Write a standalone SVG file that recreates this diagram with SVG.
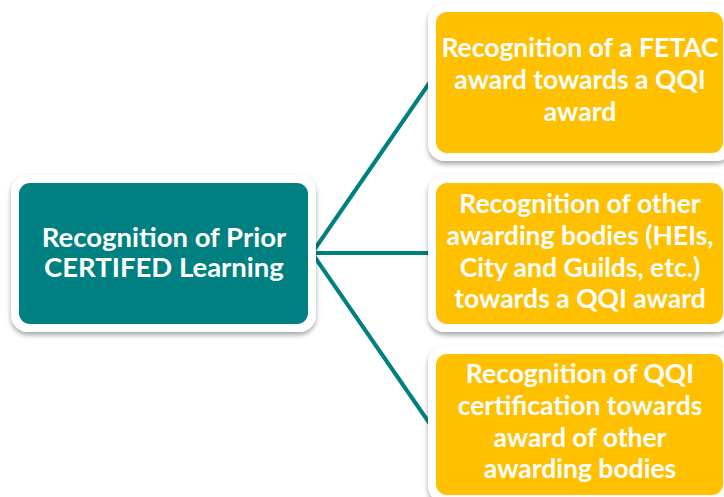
<svg xmlns="http://www.w3.org/2000/svg" width="724" height="497" viewBox="0 0 724 497">
  <style>
    .frame { fill: #ffffff; filter: url(#shadow); }
    .teal { fill: #008080; }
    .gold { fill: #FFC000; }
    .label { font-family: Lato, "Open Sans", "Liberation Sans", sans-serif; font-weight: 700; font-size: 26.5px; fill: #ffffff; text-anchor: middle; }
    .root-label { font-size: 27.5px; }
    .link { stroke: #008080; stroke-width: 4; fill: none; }
  </style>
  <defs>
    <filter id="shadow" x="-10%" y="-10%" width="120%" height="130%">
      <feGaussianBlur in="SourceAlpha" stdDeviation="2.5"/>
      <feOffset dx="0" dy="3" result="blur"/>
      <feFlood flood-color="#000000" flood-opacity="0.35"/>
      <feComposite in2="blur" operator="in"/>
      <feMerge>
        <feMergeNode/>
        <feMergeNode in="SourceGraphic"/>
      </feMerge>
    </filter>
  </defs>
  <rect width="724" height="497" fill="#ffffff"/>

  <!-- connectors from the root box to each branch -->
  <g id="connectors">
    <line class="link" x1="312" y1="253" x2="430" y2="82"/>
    <line class="link" x1="312" y1="253" x2="430" y2="253"/>
    <line class="link" x1="312" y1="253" x2="430" y2="424"/>
  </g>

  <g id="root">
    <rect class="frame" x="11" y="175" width="305" height="157" rx="17"/>
    <rect class="teal" x="19" y="183" width="289" height="141" rx="11"/>
    <text class="label root-label" x="164" y="247">Recognition of Prior</text>
    <text class="label root-label" x="164" y="277">CERTIFED Learning</text>
  </g>

  <g id="fetac">
    <rect class="frame" x="428" y="4" width="305" height="157" rx="17"/>
    <rect class="gold" x="436" y="12" width="287" height="141" rx="11"/>
    <text class="label" x="580" y="57">Recognition of a FETAC</text>
    <text class="label" x="580" y="89">award towards a QQI</text>
    <text class="label" x="580" y="121">award</text>
  </g>

  <g id="other-bodies">
    <rect class="frame" x="428" y="175" width="305" height="157" rx="17"/>
    <rect class="gold" x="436" y="183" width="287" height="141" rx="11"/>
    <text class="label" x="580" y="213">Recognition of other</text>
    <text class="label" x="580" y="245">awarding bodies (HEIs,</text>
    <text class="label" x="580" y="277">City and Guilds, etc.)</text>
    <text class="label" x="580" y="308">towards a QQI award</text>
  </g>

  <g id="qqi-certification">
    <rect class="frame" x="428" y="346" width="305" height="157" rx="17"/>
    <rect class="gold" x="436" y="354" width="287" height="141" rx="11"/>
    <text class="label" x="580" y="383">Recognition of QQI</text>
    <text class="label" x="580" y="415">certification towards</text>
    <text class="label" x="580" y="447">award of other</text>
    <text class="label" x="580" y="478">awarding bodies</text>
  </g>
</svg>
